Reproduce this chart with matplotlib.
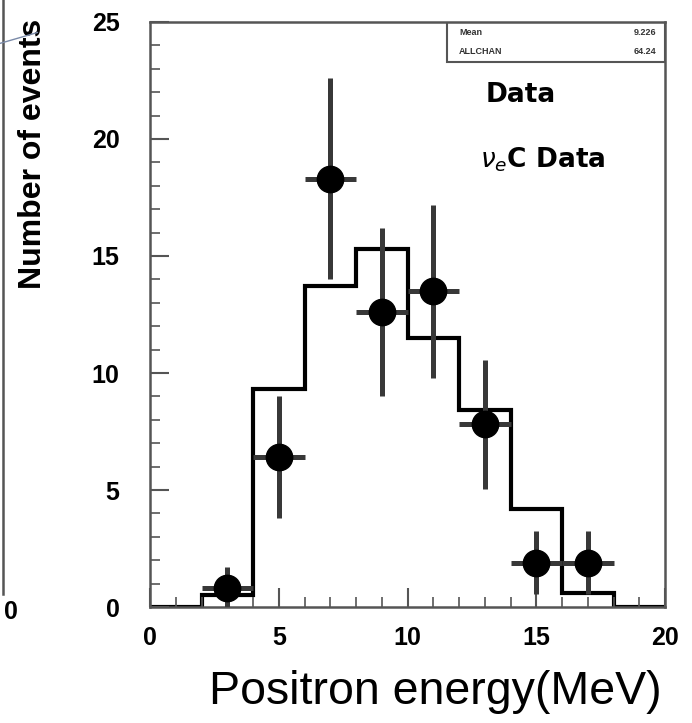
import numpy as np
import matplotlib.pyplot as plt
from matplotlib.lines import Line2D

# histogram (MC expectation), bin edges 0..20 in steps of 2 MeV
bin_edges = [0, 2, 4, 6, 8, 10, 12, 14, 16, 18, 20]
mc_counts = [0.0, 0.5, 9.3, 13.7, 15.3, 11.5, 8.4, 4.2, 0.6, 0.0]

# data points
data_x = [3, 5, 7, 9, 11, 13, 15, 17]
data_y = [0.8, 6.4, 18.3, 12.6, 13.5, 7.8, 1.9, 1.9]
data_yerr = [0.9, 2.6, 4.3, 3.6, 3.7, 2.75, 1.35, 1.35]
data_xerr = [1, 1, 1, 1, 1, 1, 1, 1]

stats_names = ['Mean', 'ALLCHAN']
stats_values = ['9.226', '64.24']

plt.rcParams['font.family'] = ['Liberation Sans', 'DejaVu Sans']

fig = plt.figure(figsize=(6.92, 7.23), dpi=100)
ax = fig.add_axes([0.2168, 0.1604, 0.7442, 0.8092])

# step histogram
ax.stairs(mc_counts, bin_edges, color='black', linewidth=3.0)

# data with error bars
ax.errorbar(data_x, data_y, xerr=data_xerr, yerr=data_yerr, fmt='o',
            color='black', ecolor='#383838', elinewidth=3.6, capsize=0,
            markersize=19, zorder=5)

ax.set_xlim(0, 20)
ax.set_ylim(0, 25)
ax.set_xticks([0, 5, 10, 15, 20])
ax.set_yticks([0, 5, 10, 15, 20, 25])
ax.set_xticks(np.arange(0, 21, 1), minor=True)
ax.set_yticks(np.arange(0, 26, 1), minor=True)
ax.tick_params(axis='both', which='major', direction='in', length=14,
               width=1.5, color='#555555', labelsize=18)
ax.tick_params(axis='both', which='minor', direction='in', length=7,
               width=1.2, color='#555555')
ax.tick_params(axis='x', which='major', pad=14)
ax.tick_params(axis='y', which='major', pad=22)
for lab in ax.get_xticklabels() + ax.get_yticklabels():
    lab.set_fontweight('bold')
for sp in ax.spines.values():
    sp.set_color('#555555')
    sp.set_linewidth(1.8)

ax.set_xlabel('Positron energy(MeV)', fontsize=33.5)
ax.xaxis.set_label_coords(0.553, -0.108)
ax.set_ylabel('Number of events', fontsize=23, fontweight='semibold')
ax.yaxis.set_label_coords(-0.198, 0.775)

# legend-like texts
ax.text(0.652, 0.875, 'Data', transform=ax.transAxes, fontsize=19,
        fontweight='bold', va='center', ha='left', family='DejaVu Sans')
ax.text(0.640, 0.765, r'$\nu_e$C Data', transform=ax.transAxes, fontsize=19,
        fontweight='bold', va='center', ha='left', family='DejaVu Sans')

# stats box
box = plt.Rectangle((0.577, 0.932), 0.423, 0.068, transform=ax.transAxes,
                    fill=False, edgecolor='#555555', linewidth=1.5)
ax.add_patch(box)
for i, (nm, val) in enumerate(zip(stats_names, stats_values)):
    yy = 0.982 - i * 0.032
    ax.text(0.600, yy, nm, transform=ax.transAxes, fontsize=6.5,
            fontweight='bold', va='center', ha='left', color='#333333')
    ax.text(0.983, yy, val, transform=ax.transAxes, fontsize=6.5,
            fontweight='bold', va='center', ha='right', color='#333333')

# remnants of the neighbouring panel at the left edge
fig.add_artist(Line2D([0.004, 0.004], [1.0, 0.178], color='#555555',
                      linewidth=1.8))
fig.add_artist(Line2D([0.0, 0.054], [0.94, 0.955], color='#7a8aa8',
                      linewidth=1.0))
fig.text(0.016, 0.153, '0', fontsize=18, fontweight='bold', ha='center',
         va='center')

plt.savefig('out.png', dpi=100)
